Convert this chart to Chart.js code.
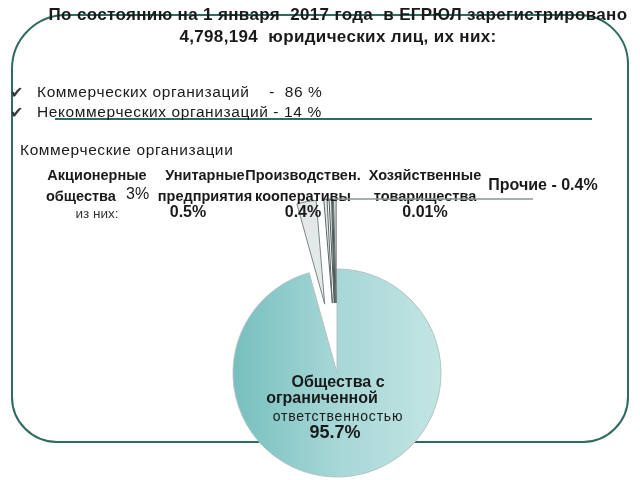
<!DOCTYPE html>
<html>
<head>
<meta charset="utf-8">
<script src="https://cdn.jsdelivr.net/npm/chart.js@4.4.0/dist/chart.umd.min.js"></script>
<style>
  body { margin: 0; background: #fff; overflow: hidden; }
  #slide { position: relative; width: 640px; height: 480px; font-family: 'Liberation Sans', Arial, sans-serif; color: #1a1a1a; }
  #frame { position: absolute; left: 11px; top: 14px; width: 618px; height: 429px; box-sizing: border-box;
           border: 2px solid #2e6b60; border-radius: 55px 50px 46px 46px; }
  #rule { position: absolute; left: 55px; top: 118px; width: 537px; height: 2px; background: #2e6b60; }
  .wrap { position: absolute; left: 0; top: 0; width: 640px; height: 480px; }
  .t { position: absolute; white-space: pre; }
  .title { left: 0; width: 676px; text-align: center; font-weight: bold; font-size: 17px; line-height: 20px; letter-spacing: 0.35px; }
  .tick { font-family: 'DejaVu Sans', sans-serif; font-size: 16px; color: #3a3a3a; left: 10px; line-height: 16px; }
  .item { left: 37px; font-size: 15.5px; line-height: 16px; letter-spacing: 0.6px; }
</style>
</head>
<body>
<div id="slide">
  <div id="frame"></div>
  <div id="rule"></div>
  <div class="wrap"><canvas id="chart"></canvas></div>
  <div class="t title" style="top:5px">По состоянию на 1 января  2017 года  в ЕГРЮЛ зарегистрировано</div>
  <div class="t title" style="top:27px">4,798,194  юридических лиц, их них:</div>
  <div class="t tick" style="top:85px">✔</div>
  <div class="t tick" style="top:105px">✔</div>
  <div class="t item" style="top:84px">Коммерческих организаций    -  86 %</div>
  <div class="t item" style="top:104px">Некоммерческих организаций - 14 %</div>
  <div class="t" style="left:20px; top:142px; font-size:15.5px; line-height:16px; letter-spacing:0.6px">Коммерческие организации</div>
</div>
<script>
const categories = [
  'Общества с\nограниченной\nответственностью',
  'Акционерные\nобщества',
  'Унитарные\nпредприятия',
  'Производствен.\nкооперативы',
  'Хозяйственные\nтоварищества',
  'Прочие'
];
const shares = [95.7, 3, 0.5, 0.4, 0.01, 0.4];
const subNote = 'из них:';

const pct = v => v + '%';

const PIE_R = 104;
// how far each slice is pulled out of the pie (px)
const explode = [0, 70, 70, 70, 70, 70];

// where each label sits on the slide
const spots = [
  null,
  { x: 97, y: 176 },
  { x: 205, y: 176, px: 188 },
  { x: 303, y: 176, px: 303 },
  { x: 425, y: 176, px: 425 },
  { x: 543, y: 186 }
];

// pull the small slices out along their mid angle, keeping their full size
const explodePlugin = {
  id: 'explodeSlices',
  afterUpdate(chart) {
    const arcs = chart.getDatasetMeta(0).data;
    arcs.forEach((a, i) => {
      const d = explode[i] || 0;
      if (!d) return;
      const mid = (a.startAngle + a.endAngle) / 2;
      a.x += Math.cos(mid) * d;
      a.y += Math.sin(mid) * d;
    });
  }
};

const labelPlugin = {
  id: 'sliceLabels',
  afterDatasetsDraw(chart) {
    const ctx = chart.ctx;
    const arcs = chart.getDatasetMeta(0).data;
    ctx.save();
    ctx.fillStyle = '#1a1a1a';
    ctx.textBaseline = 'middle';
    ctx.textAlign = 'center';

    // big slice label inside the pie
    const big = arcs[0];
    const bl = categories[0].split('\n');
    ctx.font = "bold 16px 'Liberation Sans'";
    ctx.fillText(bl[0], big.x + 1, big.y + 10);
    ctx.fillText(bl[1], big.x - 15, big.y + 26);
    ctx.font = "14px 'Liberation Sans'";
    ctx.letterSpacing = '0.8px';
    ctx.fillText(bl[2], big.x + 1, big.y + 44);
    ctx.letterSpacing = '0px';
    ctx.font = "bold 18px 'Liberation Sans'";
    ctx.fillText(pct(shares[0]), big.x - 2, big.y + 60);

    // small slices in the top row
    for (let i = 1; i < categories.length; i++) {
      const s = spots[i];
      const lines = categories[i].split('\n');
      if (lines.length === 1) {
        ctx.font = "bold 16px 'Liberation Sans'";
        ctx.fillText(lines[0] + ' - ' + pct(shares[i]), s.x, s.y);
        continue;
      }
      ctx.font = "bold 14.5px 'Liberation Sans'";
      ctx.fillText(lines[0], s.x, s.y);
      if (i === 1) {
        ctx.textAlign = 'left';
        ctx.fillText(lines[1], 46, s.y + 21);
        ctx.font = "16px 'Liberation Sans'";
        ctx.fillText(pct(shares[i]), 126, s.y + 19);
        ctx.textAlign = 'center';
        ctx.font = "13.5px 'Liberation Sans'";
        ctx.fillStyle = '#333';
        ctx.fillText(subNote, s.x, s.y + 38);
        ctx.fillStyle = '#1a1a1a';
      } else {
        ctx.fillText(lines[1], s.x, s.y + 21);
        ctx.font = "bold 16px 'Liberation Sans'";
        ctx.fillText(pct(shares[i]), s.px, s.y + 37);
      }
    }

    // leader from the "Прочие" wedge tip to its label
    const a = arcs[arcs.length - 1];
    const mid = (a.startAngle + a.endAngle) / 2;
    const tx = a.x + Math.cos(mid) * a.outerRadius;
    const ty = a.y + Math.sin(mid) * a.outerRadius;
    ctx.strokeStyle = '#8c9696';
    ctx.lineWidth = 1.5;
    ctx.beginPath();
    ctx.moveTo(tx, ty);
    ctx.lineTo(533, ty);
    ctx.stroke();
    ctx.restore();
  }
};

const fill = (c) => {
  if (c.dataIndex > 0) return '#e3e9e9';
  const area = c.chart.chartArea;
  if (!area) return '#a3d6d5';
  const cx = (area.left + area.right) / 2;
  const g = c.chart.ctx.createLinearGradient(cx - PIE_R, 0, cx + PIE_R, 0);
  g.addColorStop(0, '#76bfbe');
  g.addColorStop(0.5, '#a6d7d6');
  g.addColorStop(1, '#c3e5e4');
  return g;
};

new Chart(document.getElementById('chart'), {
  type: 'pie',
  data: {
    labels: categories,
    datasets: [{
      data: shares,
      backgroundColor: fill,
      borderColor: ['#b4c2c2', '#7b8585', '#5e6868', '#4f5858', '#4f5858', '#5e6868'],
      borderWidth: 1,
      radius: PIE_R,
      clip: false
    }]
  },
  options: {
    responsive: true,
    maintainAspectRatio: false,
    animation: false,
    cutout: '0%',
    layout: { padding: { left: 34, right: 0, top: 266, bottom: 0 } },
    plugins: {
      legend: { display: false },
      tooltip: { enabled: false }
    }
  },
  plugins: [explodePlugin, labelPlugin]
});
</script>
</body>
</html>
